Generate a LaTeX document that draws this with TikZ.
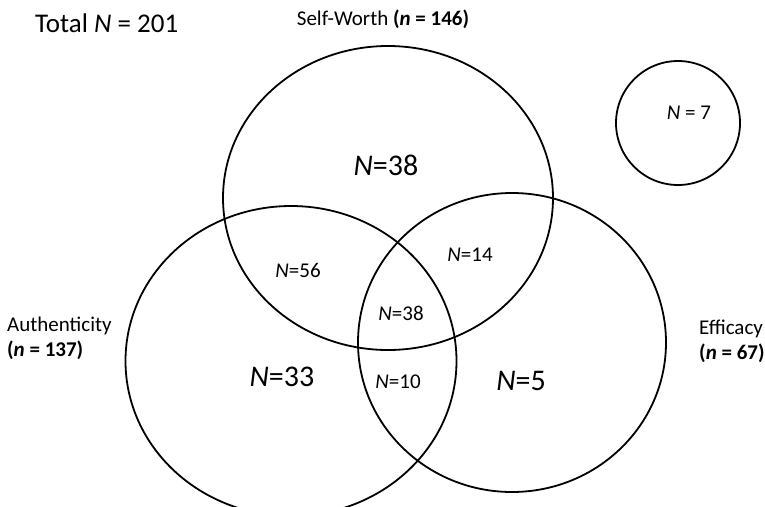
\documentclass[tikz,border=0pt]{standalone}
\usepackage{fontspec}
\setmainfont{Carlito}
\begin{document}
\begin{tikzpicture}[x=1pt,y=-1pt,
  ring/.style={draw=black,line width=1.8pt},
  big/.style={font=\fontsize{30}{36}\selectfont},
  small/.style={font=\fontsize{21}{25}\selectfont},
  lab/.style={font=\fontsize{21}{25}\selectfont,align=left}]
\useasboundingbox (0,0) rectangle (765,506);
\draw[ring] (388,198) ellipse [x radius=165, y radius=152];
\draw[ring] (291,361) ellipse [x radius=165.5, y radius=155];
\draw[ring] (512,342.5) ellipse [x radius=154, y radius=149.5];
\draw[ring] (678,123) circle [radius=62];
\node[font=\fontsize{27}{32}\selectfont,anchor=west,inner sep=0pt] (tot) at (35,23) {Total \textit{N} = 201};
\node[lab] (sw) at (383,19) {Self-Worth \textbf{(\textit{n} = 146)}};
\node[lab,anchor=west,inner sep=0pt] (au) at (7,338) {Authenticity\\\textbf{(\textit{n} = 137)}};
\node[lab,anchor=west,inner sep=0pt] (ef) at (699,341) {Efficacy\\\textbf{(\textit{n} = 67)}};
\node[big] (s) at (386,165) {\textit{N}=38};
\node[small] (sa) at (298,270) {\textit{N}=56};
\node[small] (se) at (470,255) {\textit{N}=14};
\node[small] (sae) at (401,313) {\textit{N}=38};
\node[big] (a) at (282,377) {\textit{N}=33};
\node[small] (ae) at (398,382) {\textit{N}=10};
\node[big] (e) at (521,381) {\textit{N}=5};
\node[small] (o) at (689,113) {\textit{N} = 7};
\end{tikzpicture}
\end{document}
